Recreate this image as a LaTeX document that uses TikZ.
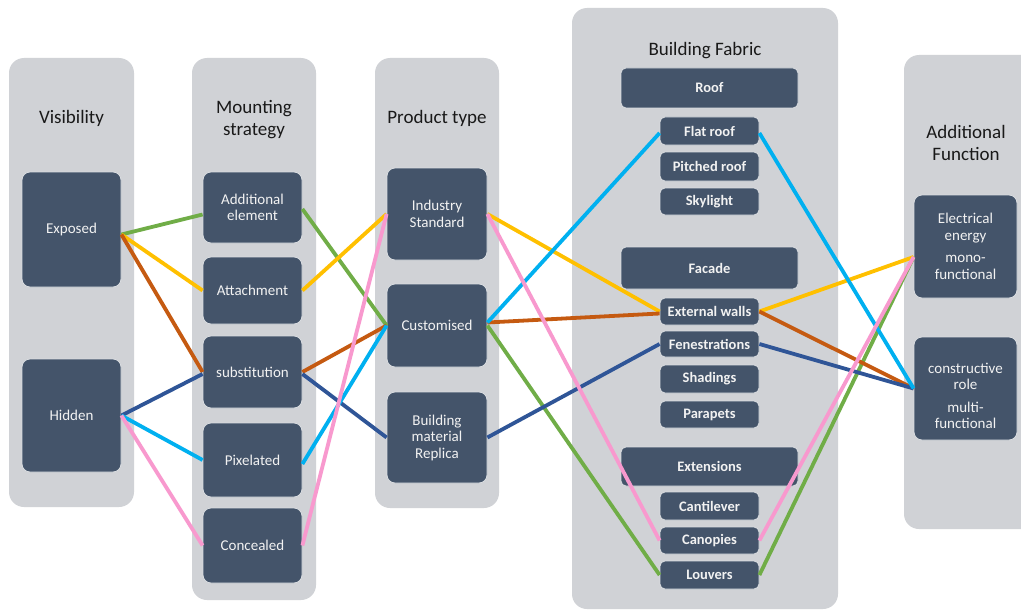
\documentclass[tikz,border=0pt]{standalone}
\usepackage{fontspec}
\setmainfont{Carlito}
\definecolor{panelgray}{HTML}{D0D2D6}
\definecolor{boxblue}{HTML}{44546A}
\definecolor{cgreen}{HTML}{70AD47}
\definecolor{cyellow}{HTML}{FFC000}
\definecolor{corange}{HTML}{C55A11}
\definecolor{cdblue}{HTML}{2F5597}
\definecolor{clblue}{HTML}{00B0F0}
\definecolor{cpink}{HTML}{F899CE}
\definecolor{boxtext}{HTML}{F2F2F2}
\begin{document}
\begin{tikzpicture}[x=1pt,y=-1pt,
  panel/.style={fill=panelgray, rounded corners=15pt},
  ttl/.style={font=\fontsize{19}{22}\selectfont, text=black!90, align=center, inner sep=0pt},
  box/.style={fill=boxblue, draw=white!80!boxblue, line width=0.8pt, rounded corners=8pt,
     text=boxtext, font=\fontsize{15}{16.5}\selectfont, align=center, inner sep=0pt},
  sbox/.style={box, rounded corners=5pt, font=\bfseries\fontsize{14.5}{16}\selectfont},
  link/.style={line width=3.8pt}
]
\clip (0,0) rectangle (1021,610);
\fill[white] (0,0) rectangle (1021,610);
% panels
\path[panel] (9,58) rectangle (134,507);
\path[panel] (192,58) rectangle (316,600);
\path[panel] (375,58) rectangle (499,508);
\path[panel] (572,8) rectangle (838,609);
\path[panel] (904,55) rectangle (1045,529);
% titles
\node[ttl] (tvis) at (71.5,118) {Visibility};
\node[ttl] (tmnt) at (254,120) {Mounting\\strategy};
\node[ttl] (tprod) at (437,118) {Product type};
\node[ttl] (tbf) at (705,51) {Building Fabric};
\node[ttl] (taf) at (966,143) {Additional\\Function};
% visibility
\node[box, minimum width=99pt, minimum height=115pt] (ex) at (71.5,229.5) {Exposed};
\node[box, minimum width=99pt, minimum height=113pt] (hi) at (71.5,415.5) {Hidden};
% mounting
\node[box, minimum width=99pt, minimum height=71pt] (ae) at (252.5,207.5) {Additional\\element};
\node[box, minimum width=99pt, minimum height=67pt] (at) at (252.5,290.5) {Attachment};
\node[box, minimum width=99pt, minimum height=72pt] (su) at (252.5,372) {substitution};
\node[box, minimum width=99pt, minimum height=74pt] (px) at (252.5,460) {Pixelated};
\node[box, minimum width=99pt, minimum height=75pt] (co) at (252.5,545.5) {Concealed};
% product
\node[box, minimum width=100pt, minimum height=92pt] (is) at (437,214) {Industry\\Standard};
\node[box, minimum width=100pt, minimum height=83pt] (cu) at (437,325.5) {Customised};
\node[box, minimum width=100pt, minimum height=91pt] (rp) at (437,437.5) {Building\\material\\Replica};
% building fabric
\node[sbox, minimum width=177pt, minimum height=40pt] (roof) at (709.5,88) {Roof};
\node[sbox, minimum width=99pt, minimum height=28pt] (flat) at (709.5,131) {Flat roof};
\node[sbox, minimum width=99pt, minimum height=29pt] (pitch) at (709.5,166.5) {Pitched roof};
\node[sbox, minimum width=99pt, minimum height=27pt] (sky) at (709.5,201.5) {Skylight};
\node[sbox, minimum width=177pt, minimum height=42pt] (fac) at (709.5,268) {Facade};
\node[sbox, minimum width=99pt, minimum height=27pt] (ew) at (709.5,311.5) {External walls};
\node[sbox, minimum width=99pt, minimum height=26pt] (fen) at (709.5,344) {Fenestrations};
\node[sbox, minimum width=99pt, minimum height=28pt] (sha) at (709.5,379) {Shadings};
\node[sbox, minimum width=99pt, minimum height=27pt] (par) at (709.5,414.5) {Parapets};
\node[sbox, minimum width=177pt, minimum height=39pt] (ext) at (709.5,466.5) {Extensions};
\node[sbox, minimum width=99pt, minimum height=28pt] (can) at (709.5,506) {Cantilever};
\node[sbox, minimum width=99pt, minimum height=27pt] (cnp) at (709.5,540.5) {Canopies};
\node[sbox, minimum width=99pt, minimum height=28pt] (lou) at (709.5,575) {Louvers};
% additional function
\node[box, minimum width=103pt, minimum height=103pt, font=\fontsize{15}{17}\selectfont] (ee) at (965.5,246.5) {Electrical\\energy\\[5pt]mono-\\functional};
\node[box, minimum width=103pt, minimum height=103pt, font=\fontsize{15}{16}\selectfont] (cr) at (965.5,388.5) {\raisebox{-13pt}[0pt][0pt]{\begin{tabular}{@{}c@{}}constructive\\role\\[7pt]multi-\\functional\end{tabular}}};
% connectors
\begin{scope}[link]
% green
\draw[cgreen] ([yshift=-5pt]ex.east) -- ([yshift=-7pt]ae.west);
\draw[cgreen] ([yshift=-1.5pt]ae.east) -- (cu.west);
\draw[cgreen] (cu.east) -- (lou.west);
\draw[cgreen] (lou.east) -- ([yshift=-10.5pt]ee.west);
% yellow
\draw[cyellow] ([yshift=-5pt]ex.east) -- (at.west);
\draw[cyellow] (at.east) -- (is.west);
\draw[cyellow] (is.east) -- (ew.west);
\draw[cyellow] (ew.east) -- ([yshift=-10.5pt]ee.west);
% orange
\draw[corange] ([yshift=-5pt]ex.east) -- (su.west);
\draw[corange] (su.east) -- (cu.west);
\draw[corange] ([yshift=3pt]cu.east) -- ([yshift=-2pt]ew.west);
\draw[corange] (ew.east) -- (cr.west);
% dark blue
\draw[cdblue] (hi.east) -- ([yshift=-2pt]su.west);
\draw[cdblue] ([yshift=-2pt]su.east) -- (rp.west);
\draw[cdblue] (rp.east) -- (fen.west);
\draw[cdblue] (fen.east) -- (cr.west);
% light blue
\draw[clblue] (hi.east) -- (px.west);
\draw[clblue] ([yshift=-4pt]px.east) -- (cu.west);
\draw[clblue] ([yshift=3pt]cu.east) -- ([yshift=-2pt]flat.west);
\draw[clblue] ([yshift=-2pt]flat.east) -- (cr.west);
% pink
\draw[cpink] (hi.east) -- (co.west);
\draw[cpink] (co.east) -- (is.west);
\draw[cpink] (is.east) -- (cnp.west);
\draw[cpink] (cnp.east) -- ([yshift=-10.5pt]ee.west);
\end{scope}
\end{tikzpicture}
\end{document}
